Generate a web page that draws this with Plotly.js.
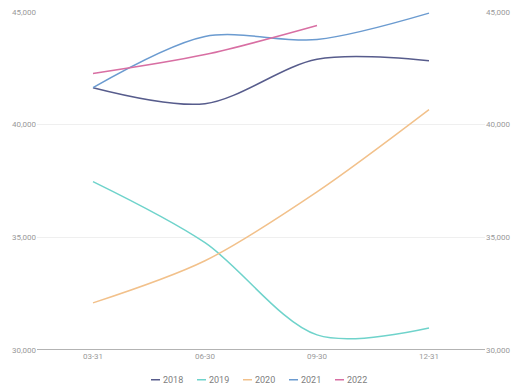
<!DOCTYPE html>
<html>
<head>
<meta charset="utf-8">
<script src="https://cdn.plot.ly/plotly-3.0.1.min.js"></script>
<style>html,body{margin:0;padding:0;background:#fff;}#chart{width:513px;height:389px;}</style>
</head>
<body>
<div id="chart"></div>
<script>
const categories = ['03-31', '06-30', '09-30', '12-31'];
const seriesNames = ['2018', '2019', '2020', '2021', '2022'];
const values2018 = [41640, 40930, 42900, 42840];
const values2019 = [37470, 34760, 30670, 30980];
const values2020 = [32090, 33960, 37020, 40670];
const values2021 = [41640, 43910, 43780, 44950];
const values2022 = [42270, 43110, 44400];
const colors = ['#575c8c', '#6fd3cb', '#f2c18b', '#6b9bd0', '#d86fa3'];
const tickValues = [30000, 35000, 40000, 45000];
const tickLabels = ['30,000', '35,000', '40,000', '45,000'];

const allValues = [values2018, values2019, values2020, values2021, values2022];
const traces = allValues.map((v, i) => ({
  type: 'scatter', mode: 'lines',
  x: categories.slice(0, v.length), y: v,
  name: seriesNames[i],
  line: {color: colors[i], width: 1.5, shape: 'spline', smoothing: 0.9},
  hoverinfo: 'x+y+name'
}));
traces.push({type: 'scatter', mode: 'lines', x: categories, y: values2019, yaxis: 'y2',
  showlegend: false, line: {width: 0, color: 'rgba(0,0,0,0)'}, hoverinfo: 'skip'});

const tickFont = {family: 'Roboto, Arial, sans-serif', size: 8, color: '#9a9a9a'};
const layout = {
  width: 513, height: 389,
  margin: {l: 37, r: 28, t: 12, b: 39, autoexpand: false},
  paper_bgcolor: '#fff', plot_bgcolor: '#fff',
  showlegend: true,
  xaxis: {type: 'category', tickfont: tickFont, showgrid: false, zeroline: false,
    showline: false, ticks: '', range: [-0.5, 3.5]},
  yaxis: {range: [30000, 45000], tickvals: tickValues, ticktext: tickLabels, tickfont: tickFont,
    showgrid: true, gridcolor: '#efefef', gridwidth: 1, zeroline: false, showline: false, ticks: ''},
  yaxis2: {range: [30000, 45000], overlaying: 'y', side: 'right', tickvals: tickValues, ticktext: tickLabels,
    tickfont: tickFont, showgrid: false, zeroline: false, showline: false, ticks: ''},
  shapes: [{type: 'line', xref: 'paper', yref: 'y', x0: 0, x1: 1, y0: 30000, y1: 30000,
    line: {color: '#9a9a9a', width: 1.5}}],
  legend: {orientation: 'h', x: 0.5, xanchor: 'center', yref: 'container', y: 0.024, yanchor: 'middle',
    font: {family: 'Roboto, Arial, sans-serif', size: 9, color: '#808080'},
    itemwidth: 30, entrywidth: 1, traceorder: 'normal'}
};
Plotly.newPlot('chart', traces, layout, {displayModeBar: false, staticPlot: true}).then(() => {
  document.querySelectorAll('.legend .traces').forEach(g => {
    g.querySelectorAll('.legendlines path, .legendsymbols path').forEach(p => p.setAttribute('d', 'M5,0h9'));
    const t = g.querySelector('text.legendtext');
    if (t) t.setAttribute('x', '17');
  });
});
</script>
</body>
</html>
